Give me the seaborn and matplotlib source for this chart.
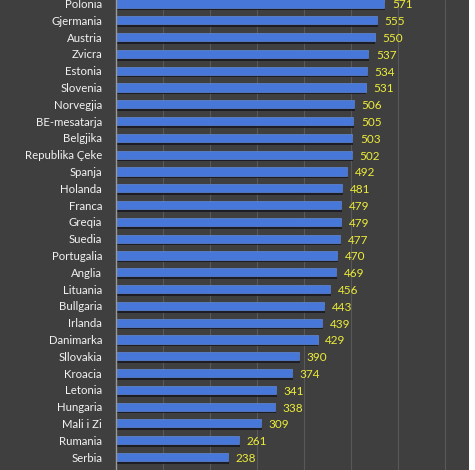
import matplotlib
matplotlib.use("Agg")
import matplotlib.pyplot as plt
import matplotlib.patheffects as pe
from matplotlib.patches import Rectangle
import seaborn as sns
import pandas as pd

countries = ["Polonia", "Gjermania", "Austria", "Zvicra", "Estonia", "Slovenia",
             "Norvegjia", "BE-mesatarja", "Belgjika", "Republika Çeke", "Spanja",
             "Holanda", "Franca", "Greqia", "Suedia", "Portugalia", "Anglia",
             "Lituania", "Bullgaria", "Irlanda", "Danimarka", "Sllovakia",
             "Kroacia", "Letonia", "Hungaria", "Mali i Zi", "Rumania", "Serbia"]
values = [571, 555, 550, 537, 534, 531, 506, 505, 503, 502, 492, 481, 479, 479,
          477, 470, 469, 456, 443, 439, 429, 390, 374, 341, 338, 309, 261, 238]

df = pd.DataFrame({"country": countries, "value": values})

sns.set_theme(style="dark")
plt.rcParams['font.family'] = ['Lato', 'DejaVu Sans']

bg = "#3f3f3f"
fig = plt.figure(figsize=(4.75, 4.70), dpi=100, facecolor=bg)
ax = fig.add_axes([116/475, 0.0, (469-116)/475, 1.0])
ax.set_facecolor(bg)

sns.barplot(data=df, x="value", y="country", orient="h", color="#4677d9",
            saturation=1, width=0.48, ax=ax)

for p in ax.patches:
    p.set_edgecolor("#6a95e8")
    p.set_linewidth(0.4)
    p.set_path_effects([pe.SimplePatchShadow(offset=(0.6, -2.0), shadow_rgbFace="#15151f", alpha=0.8),
                        pe.Normal()])

for i, v in enumerate(values):
    ax.text(v + 16, i + 0.08, str(v), color="#eded3a", fontsize=8.5,
            va="center", ha="left")

ax.set_xlim(0, 751)
ax.set_ylim(27.77, -0.208)
ax.set_xticks(range(100, 800, 100))
ax.xaxis.grid(True, color="#585858", linewidth=0.8)
ax.yaxis.grid(False)
ax.set_xticklabels([])
ax.tick_params(axis="x", length=0)
ax.tick_params(axis="y", length=0, pad=10, colors="#f2f2f2", labelsize=8.2)
ax.set_xlabel("")
ax.set_ylabel("")
for s in ["top", "right", "bottom"]:
    ax.spines[s].set_visible(False)
ax.spines["left"].set_color("#9a9a9a")
ax.spines["left"].set_linewidth(1.0)

# white spreadsheet strip on the right edge
fig.add_artist(Rectangle((469/475, 0), 6/475, 1, transform=fig.transFigure,
                         facecolor="white", edgecolor="none", zorder=5))

fig.savefig("out.png", dpi=100, facecolor=bg)
